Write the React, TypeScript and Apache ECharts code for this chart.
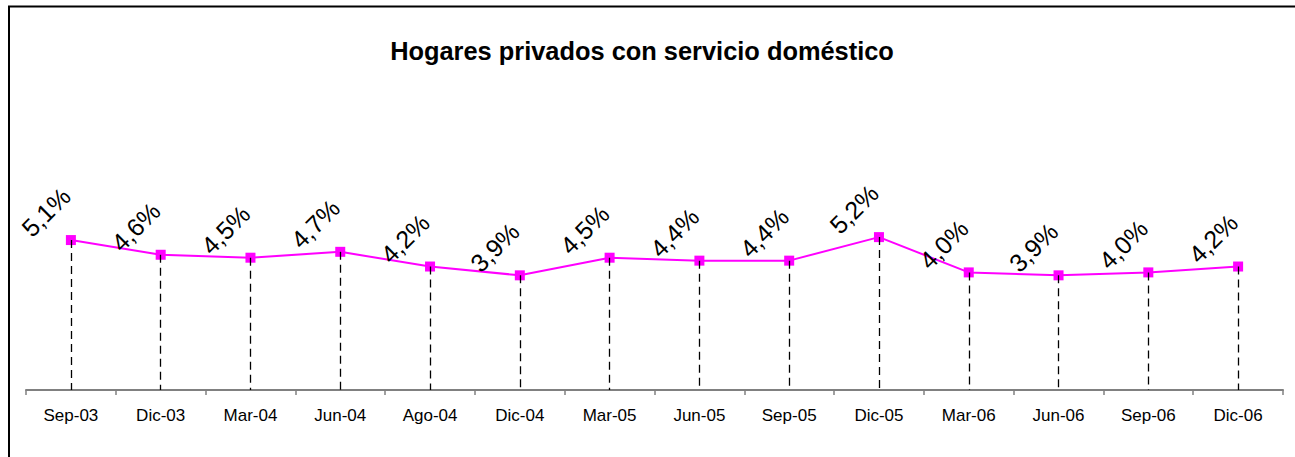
import React, { useEffect, useRef } from "react";
import * as echarts from "echarts";

const titleText = "Hogares privados con servicio doméstico";
const categories = [
  "Sep-03", "Dic-03", "Mar-04", "Jun-04", "Ago-04", "Dic-04", "Mar-05",
  "Jun-05", "Sep-05", "Dic-05", "Mar-06", "Jun-06", "Sep-06", "Dic-06",
];
const values = [5.1, 4.6, 4.5, 4.7, 4.2, 3.9, 4.5, 4.4, 4.4, 5.2, 4.0, 3.9, 4.0, 4.2];

const FONT = "'Liberation Sans', Arial, sans-serif";

export default function App() {
  const ref = useRef<HTMLDivElement>(null);
  useEffect(() => {
    if (!ref.current) return;
    const chart = echarts.init(ref.current, null, { renderer: "svg" });
    chart.setOption({
      animation: false,
      backgroundColor: "#ffffff",
      textStyle: { fontFamily: FONT },
      grid: { left: 26, right: 12, top: 96, bottom: 67, containLabel: false },
      xAxis: {
        type: "category",
        data: categories,
        boundaryGap: true,
        axisLine: { show: true, lineStyle: { color: "#808080", width: 2 } },
        axisTick: { show: true, length: 5, lineStyle: { color: "#808080", width: 1.5 } },
        axisLabel: { color: "#000", fontSize: 17, margin: 17, fontFamily: FONT, interval: 0 },
        splitLine: { show: false },
      },
      yAxis: {
        type: "value",
        min: 0,
        max: 10,
        show: false,
        splitLine: { show: false },
      },
      graphic: [
        {
          type: "rect",
          shape: { x: 9, y: 6.5, width: 1400, height: 600 },
          style: { fill: "none", stroke: "#000", lineWidth: 2 },
          silent: true,
        },
        {
          type: "text",
          x: 642,
          y: 51,
          style: {
            text: titleText,
            fill: "#000",
            font: `bold 25.4px ${FONT}`,
            align: "center",
            verticalAlign: "middle",
          },
        },
      ],
      series: [
        {
          type: "line",
          name: "drop",
          data: [],
          z: 1,
          silent: true,
          markLine: {
            silent: true,
            symbol: ["none", "none"],
            animation: false,
            label: { show: false },
            lineStyle: { color: "#000", width: 1.3, type: [8, 5] },
            emphasis: { disabled: true },
            data: values.map((v, i) => [
              { coord: [i, v] },
              { coord: [i, 0] },
            ]),
          },
        },
        {
          type: "line",
          name: "Hogares",
          data: values,
          z: 3,
          symbol: "rect",
          symbolSize: 10,
          itemStyle: { color: "#FF00FF" },
          lineStyle: { color: "#FF00FF", width: 2 },
          label: {
            show: true,
            position: [-20, -23],
            rotate: 45,
            align: "center",
            verticalAlign: "middle",
            fontSize: 25,
            color: "#000",
            fontFamily: FONT,
            formatter: (p: any) => p.value.toFixed(1).replace(".", ",") + "%",
          },
        },
      ],
    });
    return () => chart.dispose();
  }, []);
  return (
    <div
      ref={ref}
      style={{ position: "fixed", left: 0, top: 0, width: 1295, height: 457, background: "#fff" }}
    />
  );
}
